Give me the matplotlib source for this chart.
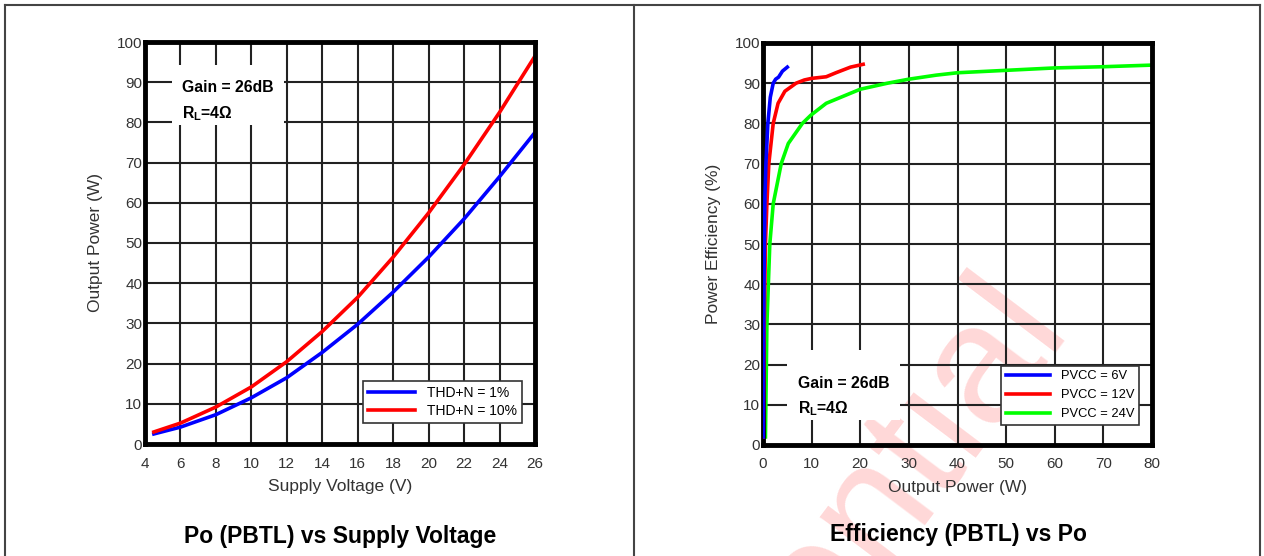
import matplotlib
matplotlib.use("Agg")
import matplotlib.pyplot as plt
from matplotlib.lines import Line2D
from matplotlib.patches import Rectangle

plt.rcParams['font.family'] = ['Liberation Sans', 'DejaVu Sans']
plt.rcParams['mathtext.fontset'] = 'custom'
plt.rcParams['mathtext.rm'] = 'Liberation Sans'
plt.rcParams['mathtext.bf'] = 'Liberation Sans:bold'

# Output power vs supply voltage (PBTL)
supply_v = [4.5, 6, 8, 10, 12, 14, 16, 18, 20, 22, 24, 26]
po_thd1 = [2.5, 4.2, 7.3, 11.5, 16.5, 22.8, 29.8, 37.8, 46.5, 56.0, 66.5, 77.5]
po_thd10 = [3.0, 5.2, 9.2, 14.2, 20.5, 28.0, 36.5, 46.5, 57.5, 69.5, 82.5, 96.5]

# Efficiency vs output power (PBTL)
po_6v = [0.05, 0.1, 0.2, 0.4, 0.6, 1.0, 1.5, 2.1, 2.6, 3.2, 4.0, 5.0]
eff_6v = [2.0, 20.0, 40.0, 62.0, 70.0, 80.0, 86.5, 90.0, 91.0, 91.5, 93.0, 94.0]
po_12v = [0.05, 0.2, 0.5, 0.8, 1.2, 2.1, 3.1, 4.5, 6.8, 8.5, 10.0, 13.0, 15.0, 18.0, 20.6]
eff_12v = [2.0, 25.0, 50.0, 60.0, 70.0, 80.0, 85.0, 88.0, 90.0, 90.8, 91.2, 91.6, 92.6, 94.0, 94.7]
po_24v = [0.5, 0.8, 1.1, 1.4, 2.1, 3.75, 5.2, 8.1, 9.8, 13.0, 17.0, 20.0, 25.6, 30.0,
          35.6, 40.0, 50.0, 60.0, 70.0, 80.0]
eff_24v = [2.0, 30.0, 40.0, 50.0, 60.0, 70.0, 75.0, 80.0, 82.0, 85.0, 87.0, 88.5, 90.0, 91.0,
           92.0, 92.6, 93.2, 93.8, 94.1, 94.5]

left_xticks = list(range(4, 27, 2))
right_xticks = list(range(0, 81, 10))
yticks = list(range(0, 101, 10))

W, H = 1264, 556
fig = plt.figure(figsize=(W / 100, H / 100), dpi=100)


def px_axes(x0, y0, x1, y1):
    ax = fig.add_axes([x0 / W, 1 - y1 / H, (x1 - x0) / W, (y1 - y0) / H])
    ax.set_zorder(1)
    return ax


def style_axes(ax, xticks, xlim):
    ax.set_xlim(*xlim)
    ax.set_ylim(0, 100)
    ax.set_xticks(xticks)
    ax.set_yticks(yticks)
    ax.grid(True, color='#222222', linewidth=1.5)
    ax.set_axisbelow(True)
    ax.tick_params(length=0, labelsize=11, colors='#333333')
    ax.tick_params(axis='x', pad=9)
    ax.tick_params(axis='y', pad=2)
    for s in ax.spines.values():
        s.set_linewidth(3.5)
        s.set_color('black')
    ax.set_facecolor('none')


def note_box(ax, bx0, by0, bx1, by1, tx, ty1, ty2):
    ax.add_patch(Rectangle((bx0, by0), bx1 - bx0, by1 - by0, transform=ax.transAxes,
                           facecolor='white', edgecolor='none', zorder=1.5))
    ax.text(tx, ty1, 'Gain = 26dB', transform=ax.transAxes, fontsize=11.3,
            fontweight='bold', va='center', ha='left', zorder=3)
    ax.text(tx, ty2, r'R$_{\mathbf{L}}$=4Ω', transform=ax.transAxes, fontsize=11.3,
            fontweight='bold', va='center', ha='left', zorder=3)


def add_legend(ax, anchor, fontsize, spacing):
    leg = ax.legend(loc='lower right', bbox_to_anchor=anchor, fontsize=fontsize,
                    handlelength=3.4, frameon=True, fancybox=False, borderpad=0.35,
                    labelspacing=spacing, handletextpad=0.9, borderaxespad=0)
    leg.get_frame().set_edgecolor('#333333')
    leg.get_frame().set_linewidth(1.2)
    leg.get_frame().set_alpha(1)
    leg.set_zorder(4)
    return leg


# watermark behind the plots
fig.text(1069 / W, 1 - 324 / H, 'Confidential', fontsize=122, color='#ffd8d8',
         rotation=53, ha='right', va='baseline', rotation_mode='anchor', zorder=-1)

# page frame
frame_kw = dict(transform=fig.transFigure, color='#444444', linewidth=1.5)
fig.add_artist(Line2D([5 / W, 1260 / W], [1 - 5 / H, 1 - 5 / H], **frame_kw))
fig.add_artist(Line2D([5 / W, 5 / W], [1 - 5 / H, 0], **frame_kw))
fig.add_artist(Line2D([634 / W, 634 / W], [1 - 5 / H, 0], **frame_kw))
fig.add_artist(Line2D([1260 / W, 1260 / W], [1 - 5 / H, 0], **frame_kw))

# left panel
ax1 = px_axes(145, 42, 535, 444)
style_axes(ax1, left_xticks, (4, 26))
ax1.plot(supply_v, po_thd1, color='#0000ff', linewidth=2.6, label='THD+N = 1%', zorder=2.5)
ax1.plot(supply_v, po_thd10, color='#ff0000', linewidth=2.6, label='THD+N = 10%', zorder=2.5)
ax1.set_xlabel('Supply Voltage (V)', fontsize=12.5, color='#333333', labelpad=6)
ax1.set_ylabel('Output Power (W)', fontsize=12.5, color='#333333', labelpad=10)
note_box(ax1, 0.069, 0.794, 0.356, 0.943, 0.094, 0.886, 0.823)
add_legend(ax1, (0.967, 0.052), 10, 0.3)
fig.text(340 / W, 1 - 536 / H, 'Po (PBTL) vs Supply Voltage', fontsize=16.5,
         fontweight='bold', ha='center', va='center')

# right panel
ax2 = px_axes(763, 43, 1152, 445)
style_axes(ax2, right_xticks, (0, 80))
ax2.plot(po_6v, eff_6v, color='#0000ff', linewidth=2.6, label='PVCC = 6V', zorder=2.6)
ax2.plot(po_12v, eff_12v, color='#ff0000', linewidth=2.6, label='PVCC = 12V', zorder=2.55)
ax2.plot(po_24v, eff_24v, color='#00ff00', linewidth=2.6, label='PVCC = 24V', zorder=2.5)
ax2.set_xlabel('Output Power (W)', fontsize=12.5, color='#333333', labelpad=6)
ax2.set_ylabel('Power Efficiency (%)', fontsize=12.5, color='#333333', labelpad=10)
note_box(ax2, 0.062, 0.062, 0.352, 0.236, 0.091, 0.154, 0.090)
add_legend(ax2, (0.967, 0.05), 9.3, 0.55)
fig.text(958 / W, 1 - 535 / H, 'Efficiency (PBTL) vs Po', fontsize=16.5,
         fontweight='bold', ha='center', va='center')

fig.savefig('out.png', dpi=100, facecolor='white')
